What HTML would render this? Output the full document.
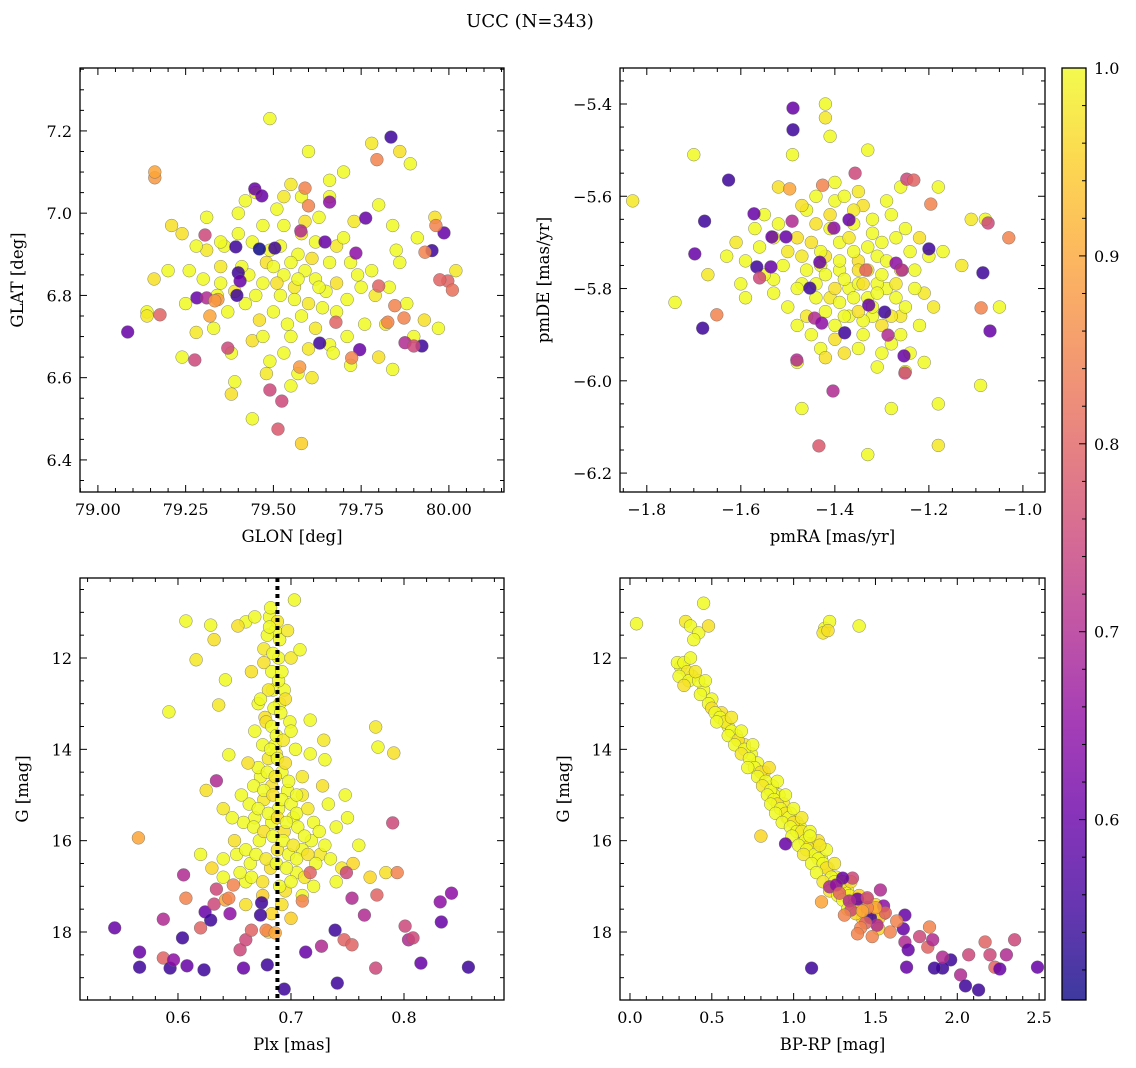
<!DOCTYPE html>
<html><head><meta charset="utf-8"><style>
html,body{margin:0;padding:0;background:#fff;}
svg{display:block;font-family:"DejaVu Serif","Liberation Serif",serif;}
</style></head><body>
<svg id="fig" width="1136" height="1068" viewBox="0 0 1136 1068">
<text x="530" y="27" text-anchor="middle" font-size="18">UCC (N=343)</text>
</svg>
<script>
// ---------- Panel 1: GLON / GLAT ----------
const glon = [79.49,79.60,79.78,79.89,79.86,79.70,79.66,79.55,79.42,79.31,79.21,79.51,79.58,79.63,79.73,79.80,79.84,79.96,79.91,80.02,79.86,79.78,79.72,79.68,79.62,79.57,79.52,79.48,79.44,79.40,79.36,79.31,79.26,79.20,79.16,79.14,79.14,79.25,79.30,79.35,79.39,79.43,79.47,79.50,79.53,79.56,79.59,79.62,79.65,79.68,79.71,79.75,79.79,79.83,79.88,79.93,79.97,79.90,79.82,79.76,79.71,79.66,79.62,79.58,79.54,79.50,79.46,79.42,79.37,79.33,79.28,79.24,79.38,79.44,79.49,79.53,79.57,79.61,79.67,79.72,79.80,79.84,79.55,79.48,79.39,79.38,79.44,79.58,79.56,79.52,79.60,79.64,79.55,79.58,79.53,79.47,79.61,79.66,79.45,79.41,79.35,79.74,79.70,79.49,79.57,79.51,79.63,79.68,79.55,79.60,79.47,79.34,79.28,79.24,79.40,79.45,79.53,79.66,79.85,79.59,79.35,
79.835,79.447,79.467,79.66,79.647,79.393,79.40,79.396,79.282,79.31,79.085,79.177,79.162,79.162,79.276,79.37,79.305,79.342,79.46,79.735,79.763,79.795,79.986,79.952,79.932,79.997,80.01,79.963,79.974,79.80,79.875,79.923,79.90,79.872,79.826,79.846,79.746,79.723,79.49,79.524,79.513,79.575,79.632,79.678,79.333,79.319,79.504,79.578,79.60,79.59,79.405];
const glat = [7.23,7.15,7.17,7.12,7.15,7.10,7.08,7.07,7.03,6.99,6.97,7.01,7.04,6.99,6.98,7.02,6.97,6.99,6.94,6.86,6.88,6.86,6.88,6.92,6.93,6.90,6.92,6.88,6.93,6.95,6.92,6.91,6.86,6.86,6.84,6.76,6.75,6.78,6.84,6.83,6.81,6.85,6.83,6.87,6.85,6.82,6.86,6.84,6.81,6.83,6.79,6.82,6.80,6.82,6.78,6.74,6.72,6.70,6.73,6.73,6.70,6.68,6.72,6.75,6.73,6.76,6.74,6.78,6.76,6.72,6.71,6.65,6.66,6.69,6.64,6.66,6.61,6.60,6.66,6.63,6.65,6.62,6.58,6.61,6.59,6.56,6.50,6.44,6.79,6.80,6.78,6.77,6.88,6.95,6.97,6.97,6.89,6.88,6.80,6.87,6.87,6.85,6.94,6.91,6.84,6.83,6.82,6.76,6.70,6.67,6.70,6.80,6.92,6.95,7.00,7.05,7.04,7.04,6.91,6.98,6.93,
7.185,7.059,7.042,7.027,6.93,6.918,6.855,6.80,6.794,6.794,6.711,6.753,7.086,7.10,6.643,6.672,6.947,6.79,6.913,6.903,6.988,7.13,6.952,6.909,6.905,6.835,6.813,6.97,6.838,6.823,6.685,6.677,6.677,6.745,6.735,6.775,6.668,6.648,6.57,6.543,6.475,6.626,6.684,6.735,6.787,6.75,6.915,6.957,7.018,7.061,6.835];
const prob1 = [1,1,0.98,1,0.97,1,1,0.98,1,1,0.97,1,1,1,0.98,1,1,0.97,1,0.98,1,1,1,0.98,1,1,1,0.97,1,1,1,0.98,1,1,0.97,1,0.98,1,1,1,0.98,1,1,1,1,0.98,1,1,1,0.97,1,1,0.98,1,1,0.97,1,1,0.98,1,1,1,0.98,1,1,1,0.97,1,1,1,0.98,1,1,0.97,1,1,1,0.98,1,1,0.97,1,1,0.98,1,0.97,1,0.95,1,1,0.98,1,1,0.98,1,1,0.97,1,1,1,0.98,1,1,1,1,0.97,1,1,1,0.98,1,1,1,0.97,1,1,0.98,1,1,0.97,1,
0.55,0.6,0.6,0.65,0.6,0.55,0.55,0.55,0.6,0.7,0.6,0.8,0.88,0.9,0.75,0.75,0.75,0.88,0.5,0.65,0.6,0.85,0.6,0.55,0.85,0.8,0.82,0.85,0.8,0.8,0.7,0.55,0.75,0.85,0.85,0.85,0.6,0.85,0.75,0.75,0.78,0.88,0.55,0.8,0.88,0.9,0.55,0.7,0.85,0.85,0.6];

// ---------- Panel 2: pmRA / pmDE ----------
const pmra = [-1.37,-1.33,-1.39,-1.43,-1.35,-1.31,-1.29,-1.41,-1.37,-1.33,-1.45,-1.47,-1.24,-1.26,-1.40,-1.36,-1.30,-1.44,-1.34,-1.28,-1.50,-1.53,-1.39,-1.35,-1.42,-1.32,-1.27,-1.21,-1.48,-1.43,-1.38,-1.31,-1.25,-1.19,-1.55,-1.46,-1.34,-1.29,-1.40,-1.35,
-1.83,-1.70,-1.74,-1.49,-1.42,-1.42,-1.41,-1.33,-1.52,-1.26,-1.18,-1.08,-1.11,-1.05,-1.09,-1.18,-1.18,-1.33,-1.28,-1.48,-1.42,-1.47,-1.59,-1.61,-1.63,-1.60,-1.52,-1.47,-1.44,-1.40,-1.36,-1.32,-1.28,-1.25,-1.22,-1.20,-1.17,-1.13,-1.23,-1.27,-1.31,-1.35,-1.39,-1.43,-1.47,-1.51,-1.55,-1.48,-1.44,-1.40,-1.36,-1.32,-1.28,-1.25,-1.22,-1.26,-1.30,-1.34,-1.38,-1.42,-1.46,-1.50,-1.53,-1.45,-1.40,-1.35,-1.30,-1.37,-1.41,-1.33,-1.29,-1.38,-1.34,-1.42,-1.30,-1.26,-1.46,-1.36,-1.32,-1.48,-1.56,-1.59,-1.67,-1.24,-1.21,-1.39,-1.35,-1.44,-1.31,-1.27,-1.23,-1.57,-1.53,-1.41,-1.38,
-1.681,-1.677,-1.698,-1.626,-1.572,-1.566,-1.536,-1.489,-1.489,-1.481,-1.434,-1.404,-1.357,-1.247,-1.232,-1.196,-1.2,-1.085,-1.074,-1.03,-1.07,-1.089,-1.253,-1.251,-1.651,-1.534,-1.504,-1.491,-1.56,-1.443,-1.428,-1.379,-1.328,-1.294,-1.287,-1.453,-1.432,-1.334,-1.27,-1.257,-1.37,-1.426,-1.496,-1.402];
const pmde = [-5.80,-5.76,-5.70,-5.75,-5.74,-5.73,-5.80,-5.82,-5.86,-5.82,-5.70,-5.79,-5.72,-5.86,-5.88,-5.66,-5.70,-5.66,-5.90,-5.92,-5.72,-5.78,-5.76,-5.79,-5.73,-5.86,-5.69,-5.81,-5.88,-5.93,-5.94,-5.97,-5.98,-5.84,-5.64,-5.63,-5.62,-5.61,-5.57,-5.59,
-5.61,-5.51,-5.83,-5.51,-5.40,-5.43,-5.47,-5.50,-5.58,-5.58,-5.58,-5.65,-5.65,-5.84,-6.01,-6.05,-6.14,-6.16,-6.06,-5.96,-5.95,-6.06,-5.82,-5.70,-5.73,-5.79,-5.66,-5.62,-5.60,-5.61,-5.63,-5.65,-5.64,-5.67,-5.69,-5.73,-5.72,-5.75,-5.80,-5.82,-5.79,-5.76,-5.74,-5.72,-5.73,-5.75,-5.77,-5.80,-5.82,-5.80,-5.82,-5.84,-5.86,-5.84,-5.88,-5.90,-5.88,-5.87,-5.86,-5.85,-5.86,-5.84,-5.81,-5.90,-5.91,-5.93,-5.94,-5.69,-5.67,-5.71,-5.74,-5.78,-5.79,-5.77,-5.77,-5.76,-5.76,-5.72,-5.68,-5.69,-5.71,-5.74,-5.77,-5.94,-5.96,-5.83,-5.85,-5.79,-5.81,-5.79,-5.76,-5.67,-5.69,-5.64,-5.60,
-5.886,-5.654,-5.725,-5.565,-5.638,-5.753,-5.753,-5.409,-5.456,-5.955,-6.141,-6.022,-5.55,-5.563,-5.565,-5.617,-5.714,-5.766,-5.658,-5.69,-5.892,-5.842,-5.946,-5.983,-5.857,-5.688,-5.688,-5.654,-5.777,-5.864,-5.875,-5.896,-5.836,-5.851,-5.901,-5.799,-5.743,-5.76,-5.745,-5.76,-5.651,-5.576,-5.584,-5.669];
const prob2 = [1,0.98,1,1,0.97,1,1,0.98,1,1,0.97,1,1,0.98,1,1,1,0.97,1,1,0.98,1,1,1,0.97,1,1,0.98,1,1,0.97,1,1,0.98,1,1,0.97,1,1,0.98,
0.98,1,1,1,1,0.98,1,1,0.97,1,1,1,0.98,1,1,1,0.98,1,1,1,0.97,1,1,0.98,1,1,1,0.97,1,1,0.98,1,1,1,0.97,1,1,0.98,1,1,1,0.97,1,1,0.98,1,1,1,1,0.97,1,1,0.98,1,1,1,0.97,1,1,1,0.98,1,1,1,0.97,1,1,0.98,1,1,1,1,0.97,1,1,0.98,1,1,1,0.97,1,1,0.98,1,1,1,0.97,1,1,0.98,1,1,1,0.97,1,
0.55,0.55,0.6,0.55,0.6,0.55,0.6,0.6,0.55,0.7,0.78,0.7,0.75,0.75,0.8,0.85,0.55,0.55,0.75,0.85,0.6,0.85,0.6,0.75,0.85,0.6,0.6,0.7,0.75,0.7,0.65,0.55,0.6,0.55,0.7,0.55,0.6,0.8,0.65,0.7,0.6,0.85,0.9,0.65];

// ---------- Panel 3: Plx / G ----------
const plx = [0.681,0.676,0.689,0.684,0.677,0.690,0.686,0.680,0.692,0.673,0.683,0.697,0.689,0.676,0.702,0.668,0.683,0.694,0.706,0.672,0.688,0.698,0.710,0.664,0.682,0.705,0.718,0.726,0.652,0.660,0.695,0.710,0.720,0.687,0.699,0.671,0.665,0.694,0.686,0.700,
0.682,0.703,0.688,0.679,0.684,0.676,0.683,0.689,0.680,0.673,0.685,0.691,0.678,0.683,0.687,0.693,0.675,0.682,0.688,0.695,0.671,0.679,0.686,0.698,0.667,0.676,0.684,0.692,0.700,0.710,0.663,0.671,0.680,0.688,0.696,0.705,0.715,0.720,0.658,0.667,0.676,0.684,0.693,0.702,0.712,0.725,0.730,0.650,0.660,0.669,0.678,0.687,0.696,0.705,0.715,0.722,0.735,0.745,0.640,0.630,0.655,0.665,0.675,0.690,0.700,0.712,0.740,0.755,0.620,0.705,0.710,0.717,0.700,0.695,0.692,0.690,0.697,0.704,0.668,0.662,0.656,0.648,0.640,0.733,0.740,0.728,0.750,0.760,0.770,0.784,0.675,0.683,0.692,0.700,0.680,0.660,
0.607,0.616,0.592,0.629,0.632,0.642,0.636,0.645,0.660,0.653,0.668,0.681,0.775,0.777,0.791,0.748,0.730,0.729,0.717,0.708,0.625,0.640,
0.544,0.566,0.566,0.587,0.593,0.596,0.604,0.608,0.623,0.587,0.607,0.605,0.62,0.624,0.629,0.632,0.642,0.655,0.658,0.66,0.665,0.674,0.678,0.679,0.686,0.694,0.713,0.727,0.739,0.741,0.747,0.754,0.765,0.775,0.776,0.79,0.794,0.801,0.804,0.808,0.815,0.832,0.833,0.842,0.857,0.645,0.649,0.634,0.717,0.749,0.754,0.71,0.673,0.646,0.565,0.634];
const gmag3 = [11.1,11.8,12.0,12.7,13.3,13.0,13.9,14.2,14.5,14.6,14.8,14.9,15.3,15.1,15.5,15.5,15.6,15.8,15.7,16.0,16.2,16.3,16.2,16.5,16.6,16.7,16.0,16.3,16.3,16.9,17.1,17.2,17.0,14.1,13.4,13.0,12.3,12.7,11.4,12.0,
10.9,10.73,11.2,11.5,11.9,12.1,12.3,12.5,12.7,12.9,13.1,13.2,13.4,13.5,13.7,13.8,13.9,14.0,14.2,14.3,14.4,14.5,14.6,14.7,14.8,14.9,15.0,15.1,15.2,15.0,15.2,15.3,15.4,15.5,15.6,15.4,15.3,15.6,15.6,15.7,15.8,15.9,16.0,16.1,15.9,15.8,16.1,16.0,16.2,16.3,16.4,16.5,16.6,16.4,16.3,16.5,16.4,16.6,16.4,16.6,16.7,16.8,16.9,17.0,16.9,16.8,16.9,16.5,16.3,15.0,14.6,14.1,13.6,12.9,12.3,11.6,11.4,14.0,13.6,14.3,15.0,15.5,15.3,15.2,15.7,14.8,15.5,16.1,16.8,16.7,17.2,17.6,17.4,17.7,18.0,17.4,
11.19,12.04,13.18,11.28,11.6,12.48,13.03,14.12,11.21,11.3,11.1,11.32,13.51,13.95,14.08,15.0,14.23,13.8,13.36,11.82,14.9,16.8,
17.91,18.44,18.77,18.57,18.79,18.61,18.13,18.74,18.83,17.72,17.26,16.75,17.91,17.56,17.74,17.39,17.3,18.39,18.79,18.17,17.96,17.36,17.96,18.72,18.02,19.25,18.44,18.31,17.96,19.12,18.17,18.28,17.63,18.79,17.19,15.61,16.7,17.87,18.17,18.13,18.68,17.34,17.78,17.15,18.77,17.26,16.97,17.06,16.7,16.7,17.26,17.32,17.63,17.6,15.94,14.69];
const prob3 = [1,0.98,1,1,0.97,1,1,0.98,1,1,0.97,1,1,0.98,1,1,1,0.97,1,1,0.98,1,1,1,0.97,1,1,0.98,1,1,0.97,1,1,0.98,1,1,0.97,1,1,0.98,
1,1,0.98,1,1,0.97,1,1,0.98,1,1,1,0.97,1,1,0.98,1,1,1,0.97,1,1,0.98,1,1,1,0.97,1,1,0.98,1,1,1,0.97,1,1,0.98,1,1,1,0.97,1,1,0.98,1,1,1,0.97,1,1,0.98,1,1,1,0.97,1,1,0.98,1,0.96,1,1,0.97,1,1,0.98,1,0.96,1,1,0.98,1,1,0.97,1,1,0.98,1,1,0.97,1,1,0.98,1,1,0.97,1,1,0.96,0.97,0.95,0.96,0.97,0.95,0.96,0.97,
1,0.98,1,1,0.97,1,0.98,1,1,0.97,1,1,0.98,1,0.97,1,1,0.98,1,1,0.97,1,
0.6,0.6,0.55,0.8,0.55,0.65,0.55,0.6,0.55,0.7,0.85,0.7,0.8,0.6,0.55,0.75,0.9,0.75,0.6,0.75,0.8,0.55,0.85,0.55,0.9,0.55,0.6,0.7,0.55,0.55,0.8,0.8,0.7,0.75,0.8,0.75,0.85,0.75,0.7,0.75,0.6,0.65,0.6,0.65,0.55,0.85,0.85,0.75,0.8,0.75,0.7,0.85,0.55,0.65,0.9,0.7];
const plxRef = [0.688];

// ---------- Panel 4: BP-RP / G ----------
const bprp = [0.31,0.38,0.45,0.50,0.56,0.60,0.65,0.70,0.74,0.78,0.82,0.87,0.91,0.94,0.98,1.02,1.06,1.09,1.12,1.17,1.21,1.26,1.29,1.33,1.37,1.42,1.46,0.88,0.96,1.04,
0.29,0.33,0.35,0.30,0.36,0.33,0.42,0.46,0.40,0.37,0.43,0.48,0.50,0.52,0.55,0.58,0.53,0.62,0.60,0.66,0.64,0.70,0.68,0.73,0.76,0.72,0.80,0.78,0.83,0.81,0.86,0.84,0.88,0.90,0.86,0.92,0.95,0.89,0.97,0.93,1.00,0.98,1.02,1.05,0.99,1.07,1.03,1.10,1.08,1.13,1.06,1.15,1.11,1.18,1.20,1.14,1.23,1.18,1.25,1.28,1.22,1.31,1.27,1.34,1.30,1.37,1.33,1.40,1.45,1.42,1.38,1.00,1.05,1.10,1.15,1.20,1.25,0.95,0.90,0.85,0.75,0.68,0.62,1.30,1.35,1.40,1.45,1.50,1.55,1.10,1.16,1.48,1.52,
0.04,0.45,0.34,0.37,0.42,0.48,0.39,1.19,1.18,1.22,1.21,1.40,0.80,1.52,
2.49,2.35,2.30,2.23,2.26,2.17,2.2,2.07,1.96,1.91,1.91,2.02,2.05,2.13,1.86,1.69,1.82,1.83,1.85,1.68,1.67,1.68,1.77,1.70,1.53,1.55,1.56,1.47,1.51,1.44,1.41,1.39,1.34,1.35,1.31,1.36,1.30,1.22,1.26,0.95,1.39,1.48,1.59,1.11,1.63,1.5,1.45,1.42,1.45,1.28,1.17];
const gmag4 = [12.2,12.4,12.7,12.9,13.2,13.5,13.7,13.9,14.1,14.3,14.5,14.8,15.0,15.2,15.4,15.6,15.9,16.0,16.2,16.4,16.6,16.8,17.0,17.1,17.3,17.4,17.5,15.0,15.5,15.7,
12.1,12.1,12.3,12.4,12.5,12.6,12.5,12.5,12.3,12.0,12.8,13.0,13.1,13.2,13.3,13.4,13.4,13.6,13.7,13.8,13.9,14.0,14.1,14.2,14.4,14.4,14.5,14.6,14.7,14.8,14.9,15.0,15.1,15.2,15.2,15.3,15.4,15.4,15.5,15.6,15.6,15.7,15.8,15.8,15.9,16.0,16.1,16.1,16.2,16.3,16.3,16.4,16.5,16.5,16.6,16.7,16.8,16.9,16.9,17.0,17.1,17.1,17.2,17.2,17.3,17.4,17.5,17.5,17.6,17.7,17.6,15.3,15.5,15.8,16.0,16.2,16.5,15.0,14.7,14.4,13.9,13.6,13.3,16.9,16.9,17.2,17.3,17.4,17.6,15.9,16.1,17.5,17.7,
11.25,10.8,11.2,11.3,11.45,11.3,11.6,11.35,11.45,11.2,11.4,11.3,15.9,17.93,
18.77,18.17,18.5,18.77,18.81,18.22,18.5,18.5,18.61,18.79,18.55,18.94,19.18,19.27,18.79,18.77,18.33,17.89,18.17,17.63,17.93,18.22,18.1,18.39,17.08,17.43,17.58,17.69,17.85,17.8,17.91,17.28,17.32,17.52,17.63,16.82,16.82,17.01,16.97,16.07,18.04,18.1,18.0,18.79,17.76,17.47,17.47,17.54,17.25,17.15,17.34];
const prob4 = [1,0.98,1,1,0.97,1,1,0.98,1,1,0.97,1,1,0.98,1,1,1,0.97,1,1,0.98,1,1,1,0.97,0.96,0.95,1,0.98,1,
1,1,0.98,1,1,0.97,1,1,0.98,1,1,1,0.97,1,1,0.98,1,1,1,0.97,1,1,0.98,1,1,1,0.97,1,1,0.98,1,1,1,0.97,1,1,0.98,1,1,1,0.97,1,1,0.98,1,1,1,0.97,1,1,0.98,1,1,1,0.97,1,1,0.98,1,1,0.97,1,1,0.98,1,0.97,1,0.96,0.97,0.95,0.96,1,0.98,1,0.97,1,0.98,1,1,0.97,1,1,0.98,0.97,0.96,0.95,0.97,0.96,0.95,1,0.98,0.96,0.95,
1,1,0.98,1,1,0.97,1,1,0.98,1,0.97,1,0.96,0.96,
0.6,0.75,0.7,0.8,0.6,0.8,0.75,0.75,0.55,0.55,0.7,0.7,0.55,0.55,0.55,0.6,0.8,0.85,0.7,0.6,0.6,0.7,0.75,0.6,0.7,0.65,0.8,0.55,0.7,0.8,0.85,0.6,0.7,0.75,0.85,0.75,0.6,0.7,0.65,0.6,0.85,0.85,0.85,0.55,0.85,0.9,0.85,0.9,0.75,0.8,0.9];

const cbTicks = [0.6,0.7,0.8,0.9,1.0];
const cbMin = 0.504, cbMax = 1.0;

const NS = "http://www.w3.org/2000/svg";
const svg = document.getElementById('fig');
function mk(tag, attrs, parent){
  const e = document.createElementNS(NS, tag);
  for (const k in attrs) e.setAttribute(k, attrs[k]);
  (parent||svg).appendChild(e);
  return e;
}
const stops = [[13,8,135],[65,4,157],[106,0,168],[143,13,164],[177,42,144],[204,71,120],[225,100,98],[242,132,75],[252,166,54],[252,206,37],[240,249,33]];
function plasma(t){
  if (!isFinite(t)) t = 1;
  t = Math.max(0, Math.min(1, t));
  const f = t*10, i = Math.min(9, Math.floor(f)), r = f - i;
  const a = stops[i], b = stops[i+1];
  return 'rgb(' + [0,1,2].map(k => Math.round(a[k] + (b[k]-a[k])*r)).join(',') + ')';
}
function pcolor(p){ if (typeof p !== 'number') p = 1; return plasma((p - cbMin)/(cbMax - cbMin)); }

function panel(cfg, xs, ys, ps){
  const g = mk('g', {});
  
  
  const L=cfg.l, R=cfg.r, T=cfg.t, B=cfg.b;
  const sx = v => L + (v - cfg.x0)/(cfg.x1 - cfg.x0)*(R-L);
  const sy = cfg.inv ? (v => T + (v - cfg.y0)/(cfg.y1 - cfg.y0)*(B-T)) : (v => B - (v - cfg.y0)/(cfg.y1 - cfg.y0)*(B-T));
  const clip = mk('clipPath', {id: 'clip-' + cfg.name}, g);
  mk('rect', {x:L, y:T, width:R-L, height:B-T}, clip);
  const pts = mk('g', {'clip-path': 'url(#clip-' + cfg.name + ')'}, g);
  
  
  const n = Math.min(xs.length, ys.length);
  for (let i = 0; i < n; i++){
    const c = mk('circle', {cx: sx(xs[i]).toFixed(1), cy: sy(ys[i]).toFixed(1), r: 6.4, fill: pcolor(ps[i]), 'fill-opacity': 0.85, stroke: '#666', 'stroke-width': 0.5, 'stroke-opacity': 0.8}, pts);
    
    
  }
  if (cfg.vline){
    const ln = mk('line', {x1: sx(cfg.vline[0]), x2: sx(cfg.vline[0]), y1: T, y2: B, stroke: '#000', 'stroke-width': 4, 'stroke-dasharray': '4,4'}, g);
    
    
  }
  const tk = mk('g', {stroke: '#000', 'stroke-width': 1}, g);
  
  
  const eps = 1e-6;
  const nx0 = Math.ceil(cfg.x0/cfg.xmin - eps), nx1 = Math.floor(cfg.x1/cfg.xmin + eps);
  for (let k = nx0; k <= nx1; k++){
    const v = k*cfg.xmin;
    const px = sx(v);
    const isMaj = Math.abs(v/cfg.xmaj - Math.round(v/cfg.xmaj)) < 1e-4;
    const len = isMaj ? 7 : 4;
    mk('line', {x1:px, x2:px, y1:B, y2:B-len}, tk);
    mk('line', {x1:px, x2:px, y1:T, y2:T+len}, tk);
    if (isMaj){
      const t = mk('text', {x:px, y:B+23, 'text-anchor':'middle', 'font-size':16, fill:'#000'}, g);
      t.textContent = cfg.xfmt(Math.abs(v) < 1e-9 ? 0 : v);
      
      
    }
  }
  const ylo = Math.min(cfg.y0, cfg.y1), yhi = Math.max(cfg.y0, cfg.y1);
  const ny0 = Math.ceil(ylo/cfg.ymin - eps), ny1 = Math.floor(yhi/cfg.ymin + eps);
  for (let k = ny0; k <= ny1; k++){
    const v = k*cfg.ymin;
    const py = sy(v);
    const isMaj = Math.abs(v/cfg.ymaj - Math.round(v/cfg.ymaj)) < 1e-4;
    const len = isMaj ? 7 : 4;
    mk('line', {x1:L, x2:L+len, y1:py, y2:py}, tk);
    mk('line', {x1:R, x2:R-len, y1:py, y2:py}, tk);
    if (isMaj){
      const t = mk('text', {x:L-8, y:py+6, 'text-anchor':'end', 'font-size':16, fill:'#000'}, g);
      t.textContent = cfg.yfmt(v);
      
      
    }
  }
  const fr = mk('rect', {x:L, y:T, width:R-L, height:B-T, fill:'none', stroke:'#000', 'stroke-width':1.3}, g);
  
  
  const xl = mk('text', {x:(L+R)/2, y:B+50, 'text-anchor':'middle', 'font-size':16.5, fill:'#000'}, g);
  xl.textContent = cfg.xlabel;
  
  
  const yl = mk('text', {x:0, y:0, 'text-anchor':'middle', 'font-size':16.5, fill:'#000', transform:'translate(' + cfg.ylx + ',' + ((T+B)/2) + ') rotate(-90)'}, g);
  yl.textContent = cfg.ylabel;
  
  
}
const minus = s => s.replace('-', '\u2212');

panel({name:'panel-glon-glat', l:80, r:504, t:68, b:492, x0:78.949, x1:80.157, y0:6.322, y1:7.353,
  xmaj:0.25, xmin:0.05, ymaj:0.2, ymin:0.05, xfmt:v=>v.toFixed(2), yfmt:v=>v.toFixed(1),
  xlabel:'GLON [deg]', ylabel:'GLAT [deg]', ylx:23}, glon, glat, prob1);
panel({name:'panel-pmra-pmde', l:620, r:1045, t:68, b:492, x0:-1.857, x1:-0.953, y0:-6.241, y1:-5.322,
  xmaj:0.2, xmin:0.05, ymaj:0.2, ymin:0.05, xfmt:v=>minus(v.toFixed(1)), yfmt:v=>minus(v.toFixed(1)),
  xlabel:'pmRA [mas/yr]', ylabel:'pmDE [mas/yr]', ylx:549}, pmra, pmde, prob2);
panel({name:'panel-plx-g', l:80, r:504, t:578, b:1000, x0:0.5133, x1:0.8885, y0:10.248, y1:19.489, inv:true,
  xmaj:0.1, xmin:0.02, ymaj:2, ymin:0.5, xfmt:v=>v.toFixed(1), yfmt:v=>v.toFixed(0),
  xlabel:'Plx [mas]', ylabel:'G [mag]', ylx:28, vline:plxRef}, plx, gmag3, prob3);
panel({name:'panel-bprp-g', l:620, r:1045, t:578, b:1000, x0:-0.061, x1:2.536, y0:10.248, y1:19.489, inv:true,
  xmaj:0.5, xmin:0.1, ymaj:2, ymin:0.5, xfmt:v=>v.toFixed(1), yfmt:v=>v.toFixed(0),
  xlabel:'BP-RP [mag]', ylabel:'G [mag]', ylx:569}, bprp, gmag4, prob4);

// colorbar
(function(){
  const g = mk('g', {});
  
  
  const L=1062, R=1086, T=68, B=1000;
  const defs = mk('defs', {}, g);
  const lg = mk('linearGradient', {id:'cbg', x1:0, y1:1, x2:0, y2:0}, defs);
  for (let i = 0; i <= 20; i++){
    mk('stop', {offset: (i/20), 'stop-color': plasma(i/20)}, lg);
  }
  const r = mk('rect', {x:L, y:T, width:R-L, height:B-T, fill:'url(#cbg)', 'fill-opacity':0.8}, g);
  
  
  const sy = v => B - (v - cbMin)/(cbMax - cbMin)*(B-T);
  for (let k = 26; k <= 50; k++){
    const v = k*0.02;
    const isMaj = cbTicks.some(t => Math.abs(t - v) < 1e-4);
    mk('line', {x1:R, x2:R-(isMaj?7:4), y1:sy(v), y2:sy(v), stroke:'#000', 'stroke-width':1}, g);
  }
  cbTicks.forEach(v => {
    const t = mk('text', {x:R+8, y:sy(v)+6, 'font-size':16, fill:'#000'}, g);
    t.textContent = v.toFixed(1);
    
    
  });
  mk('rect', {x:L, y:T, width:R-L, height:B-T, fill:'none', stroke:'#000', 'stroke-width':1.3}, g);
})();
</script>
</body></html>
